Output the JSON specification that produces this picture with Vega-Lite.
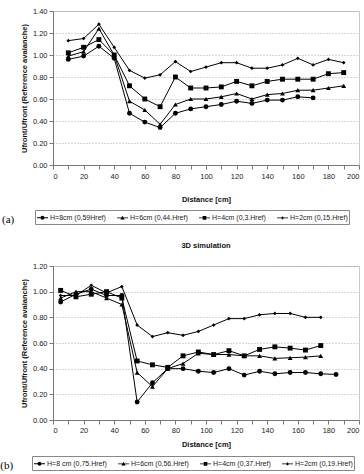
{
  "$schema": "https://vega.github.io/schema/vega-lite/v6.json",
  "padding": {"left": 0, "top": 6, "right": 0, "bottom": 0},
  "background": "white",
  "spacing": 16,
  "config": {
    "font": "Liberation Sans",
    "view": {"stroke": "#c8c8c8", "strokeWidth": 1},
    "axis": {"labelFontSize": 7.5, "labelColor": "#222", "titleFontSize": 7.5, "titleFontWeight": "bold", "titleColor": "#111", "domainColor": "#777", "tickColor": "#777", "tickSize": 4, "labelPadding": 2, "gridColor": "#999", "gridDash": [1, 2], "gridWidth": 0.8},
    "axisX": {"grid": false},
    "axisY": {"titlePadding": 4},
    "title": {"fontSize": 7.5, "fontWeight": "bold", "color": "#111"},
    "legend": {"orient": "none", "direction": "horizontal", "columns": 4, "strokeColor": "#888", "padding": 1, "labelFontSize": 7, "labelColor": "#222", "symbolSize": 121, "symbolOpacity": 1, "symbolFillColor": "black", "columnPadding": 8, "labelOffset": 1}
  },
  "vconcat": [
    {
      "title": {"text": "(a)", "orient": "left", "anchor": "start", "angle": 0, "frame": "bounds", "font": "Liberation Serif", "fontSize": 11, "fontWeight": "normal", "baseline": "bottom", "align": "right", "offset": -6, "color": "#000"},
      "width": 306,
      "height": 154,
      "data": {"values": [
        {"d": 10, "v": 0.96, "s": "H=8cm (0,59Href)"}, {"d": 20, "v": 0.99, "s": "H=8cm (0,59Href)"}, {"d": 30, "v": 1.08, "s": "H=8cm (0,59Href)"}, {"d": 40, "v": 0.97, "s": "H=8cm (0,59Href)"}, {"d": 50, "v": 0.47, "s": "H=8cm (0,59Href)"}, {"d": 60, "v": 0.39, "s": "H=8cm (0,59Href)"}, {"d": 70, "v": 0.34, "s": "H=8cm (0,59Href)"}, {"d": 80, "v": 0.47, "s": "H=8cm (0,59Href)"}, {"d": 90, "v": 0.51, "s": "H=8cm (0,59Href)"}, {"d": 100, "v": 0.53, "s": "H=8cm (0,59Href)"}, {"d": 110, "v": 0.55, "s": "H=8cm (0,59Href)"}, {"d": 120, "v": 0.58, "s": "H=8cm (0,59Href)"}, {"d": 130, "v": 0.56, "s": "H=8cm (0,59Href)"}, {"d": 140, "v": 0.59, "s": "H=8cm (0,59Href)"}, {"d": 150, "v": 0.59, "s": "H=8cm (0,59Href)"}, {"d": 160, "v": 0.62, "s": "H=8cm (0,59Href)"}, {"d": 170, "v": 0.61, "s": "H=8cm (0,59Href)"},
        {"d": 10, "v": 0.99, "s": "H=6cm (0,44.Href)"}, {"d": 20, "v": 1.03, "s": "H=6cm (0,44.Href)"}, {"d": 30, "v": 1.24, "s": "H=6cm (0,44.Href)"}, {"d": 40, "v": 1.0, "s": "H=6cm (0,44.Href)"}, {"d": 50, "v": 0.58, "s": "H=6cm (0,44.Href)"}, {"d": 60, "v": 0.5, "s": "H=6cm (0,44.Href)"}, {"d": 70, "v": 0.37, "s": "H=6cm (0,44.Href)"}, {"d": 80, "v": 0.55, "s": "H=6cm (0,44.Href)"}, {"d": 90, "v": 0.6, "s": "H=6cm (0,44.Href)"}, {"d": 100, "v": 0.6, "s": "H=6cm (0,44.Href)"}, {"d": 110, "v": 0.62, "s": "H=6cm (0,44.Href)"}, {"d": 120, "v": 0.65, "s": "H=6cm (0,44.Href)"}, {"d": 130, "v": 0.6, "s": "H=6cm (0,44.Href)"}, {"d": 140, "v": 0.64, "s": "H=6cm (0,44.Href)"}, {"d": 150, "v": 0.65, "s": "H=6cm (0,44.Href)"}, {"d": 160, "v": 0.68, "s": "H=6cm (0,44.Href)"}, {"d": 170, "v": 0.68, "s": "H=6cm (0,44.Href)"}, {"d": 180, "v": 0.7, "s": "H=6cm (0,44.Href)"}, {"d": 190, "v": 0.72, "s": "H=6cm (0,44.Href)"},
        {"d": 10, "v": 1.02, "s": "H=4cm (0,3.Href)"}, {"d": 20, "v": 1.07, "s": "H=4cm (0,3.Href)"}, {"d": 30, "v": 1.14, "s": "H=4cm (0,3.Href)"}, {"d": 40, "v": 1.0, "s": "H=4cm (0,3.Href)"}, {"d": 50, "v": 0.72, "s": "H=4cm (0,3.Href)"}, {"d": 60, "v": 0.6, "s": "H=4cm (0,3.Href)"}, {"d": 70, "v": 0.53, "s": "H=4cm (0,3.Href)"}, {"d": 80, "v": 0.8, "s": "H=4cm (0,3.Href)"}, {"d": 90, "v": 0.7, "s": "H=4cm (0,3.Href)"}, {"d": 100, "v": 0.7, "s": "H=4cm (0,3.Href)"}, {"d": 110, "v": 0.71, "s": "H=4cm (0,3.Href)"}, {"d": 120, "v": 0.76, "s": "H=4cm (0,3.Href)"}, {"d": 130, "v": 0.72, "s": "H=4cm (0,3.Href)"}, {"d": 140, "v": 0.76, "s": "H=4cm (0,3.Href)"}, {"d": 150, "v": 0.78, "s": "H=4cm (0,3.Href)"}, {"d": 160, "v": 0.78, "s": "H=4cm (0,3.Href)"}, {"d": 170, "v": 0.78, "s": "H=4cm (0,3.Href)"}, {"d": 180, "v": 0.83, "s": "H=4cm (0,3.Href)"}, {"d": 190, "v": 0.84, "s": "H=4cm (0,3.Href)"},
        {"d": 10, "v": 1.13, "s": "H=2cm (0,15.Href)"}, {"d": 20, "v": 1.15, "s": "H=2cm (0,15.Href)"}, {"d": 30, "v": 1.28, "s": "H=2cm (0,15.Href)"}, {"d": 40, "v": 1.07, "s": "H=2cm (0,15.Href)"}, {"d": 50, "v": 0.86, "s": "H=2cm (0,15.Href)"}, {"d": 60, "v": 0.79, "s": "H=2cm (0,15.Href)"}, {"d": 70, "v": 0.82, "s": "H=2cm (0,15.Href)"}, {"d": 80, "v": 0.94, "s": "H=2cm (0,15.Href)"}, {"d": 90, "v": 0.85, "s": "H=2cm (0,15.Href)"}, {"d": 100, "v": 0.89, "s": "H=2cm (0,15.Href)"}, {"d": 110, "v": 0.93, "s": "H=2cm (0,15.Href)"}, {"d": 120, "v": 0.93, "s": "H=2cm (0,15.Href)"}, {"d": 130, "v": 0.88, "s": "H=2cm (0,15.Href)"}, {"d": 140, "v": 0.88, "s": "H=2cm (0,15.Href)"}, {"d": 150, "v": 0.91, "s": "H=2cm (0,15.Href)"}, {"d": 160, "v": 0.97, "s": "H=2cm (0,15.Href)"}, {"d": 170, "v": 0.91, "s": "H=2cm (0,15.Href)"}, {"d": 180, "v": 0.96, "s": "H=2cm (0,15.Href)"}, {"d": 190, "v": 0.93, "s": "H=2cm (0,15.Href)"}
      ]},
      "encoding": {
        "x": {"field": "d", "type": "quantitative", "scale": {"domain": [0, 200], "nice": false}, "axis": {"values": [0,10,20,30,40,50,60,70,80,90,100,110,120,130,140,150,160,170,180,190,200], "title": "Distance [cm]", "labelPadding": 3, "titlePadding": 16}},
        "y": {"field": "v", "type": "quantitative", "scale": {"domain": [0, 1.4], "nice": false}, "axis": {"values": [0,0.2,0.4,0.6,0.8,1.0,1.2,1.4], "format": ".2f", "title": "Ufront/Ufront (Reference avalanche)", "grid": true}}
      },
      "layer": [
        {"mark": {"type": "line", "color": "black", "strokeWidth": 1}, "encoding": {"detail": {"field": "s"}}},
        {"mark": {"type": "point", "filled": true, "color": "black", "opacity": 1},
         "encoding": {
           "shape": {"field": "s", "type": "nominal", "scale": {"domain": ["H=8cm (0,59Href)", "H=6cm (0,44.Href)", "H=4cm (0,3.Href)", "H=2cm (0,15.Href)"], "range": ["circle", "triangle-up", "square", "diamond"]}, "legend": null},
           "size": {"condition": {"test": "datum.s === 'H=2cm (0,15.Href)'", "value": 14}, "value": 24}
         }},
        {"mark": {"type": "point", "filled": true, "color": "black", "opacity": 0},
         "encoding": {
           "shape": {"field": "s", "type": "nominal", "scale": {"domain": ["H=8cm (0,59Href)", "H=6cm (0,44.Href)", "H=4cm (0,3.Href)", "H=2cm (0,15.Href)"], "range": ["M-1,-0.08H1V0.08H-1ZM-0.36,0A0.36,0.36,0,1,1,0.36,0A0.36,0.36,0,1,1,-0.36,0Z", "M-1,-0.08H1V0.08H-1ZM0,-0.4L0.4,0.3L-0.4,0.3Z", "M-1,-0.08H1V0.08H-1ZM-0.33,-0.33H0.33V0.33H-0.33Z", "M-1,-0.08H1V0.08H-1ZM0,-0.3L0.3,0L0,0.3L-0.3,0Z"]},
             "legend": {"title": null, "legendX": -18, "legendY": 199, "symbolSize": 121, "symbolOpacity": 1, "encode": {"symbols": {"update": {"opacity": {"value": 1}, "fillOpacity": {"value": 1}, "fill": {"value": "black"}}}}}}
         }}
      ],
      "resolve": {"scale": {"shape": "independent"}, "legend": {"shape": "independent"}}
    },
    {
      "title": {"text": "(b)", "orient": "left", "anchor": "start", "angle": 0, "frame": "bounds", "font": "Liberation Serif", "fontSize": 11, "fontWeight": "normal", "baseline": "bottom", "align": "right", "offset": -6, "color": "#000"},
      "vconcat": [
        {
          "title": {"text": "3D simulation", "offset": 13, "anchor": "middle", "frame": "group"},
          "width": 306,
          "height": 154,
          "data": {"values": [
            {"d": 5, "v": 0.92, "s": "H=8 cm (0,75.Href)"}, {"d": 15, "v": 0.98, "s": "H=8 cm (0,75.Href)"}, {"d": 25, "v": 1.02, "s": "H=8 cm (0,75.Href)"}, {"d": 35, "v": 0.97, "s": "H=8 cm (0,75.Href)"}, {"d": 45, "v": 0.97, "s": "H=8 cm (0,75.Href)"}, {"d": 55, "v": 0.14, "s": "H=8 cm (0,75.Href)"}, {"d": 65, "v": 0.29, "s": "H=8 cm (0,75.Href)"}, {"d": 75, "v": 0.4, "s": "H=8 cm (0,75.Href)"}, {"d": 85, "v": 0.4, "s": "H=8 cm (0,75.Href)"}, {"d": 95, "v": 0.38, "s": "H=8 cm (0,75.Href)"}, {"d": 105, "v": 0.37, "s": "H=8 cm (0,75.Href)"}, {"d": 115, "v": 0.4, "s": "H=8 cm (0,75.Href)"}, {"d": 125, "v": 0.35, "s": "H=8 cm (0,75.Href)"}, {"d": 135, "v": 0.38, "s": "H=8 cm (0,75.Href)"}, {"d": 145, "v": 0.36, "s": "H=8 cm (0,75.Href)"}, {"d": 155, "v": 0.37, "s": "H=8 cm (0,75.Href)"}, {"d": 165, "v": 0.37, "s": "H=8 cm (0,75.Href)"}, {"d": 175, "v": 0.36, "s": "H=8 cm (0,75.Href)"}, {"d": 185, "v": 0.355, "s": "H=8 cm (0,75.Href)"},
            {"d": 5, "v": 0.95, "s": "H=6cm (0,56.Href)"}, {"d": 15, "v": 1.0, "s": "H=6cm (0,56.Href)"}, {"d": 25, "v": 1.0, "s": "H=6cm (0,56.Href)"}, {"d": 35, "v": 0.95, "s": "H=6cm (0,56.Href)"}, {"d": 45, "v": 0.9, "s": "H=6cm (0,56.Href)"}, {"d": 55, "v": 0.37, "s": "H=6cm (0,56.Href)"}, {"d": 65, "v": 0.26, "s": "H=6cm (0,56.Href)"}, {"d": 75, "v": 0.4, "s": "H=6cm (0,56.Href)"}, {"d": 85, "v": 0.44, "s": "H=6cm (0,56.Href)"}, {"d": 95, "v": 0.52, "s": "H=6cm (0,56.Href)"}, {"d": 105, "v": 0.51, "s": "H=6cm (0,56.Href)"}, {"d": 115, "v": 0.51, "s": "H=6cm (0,56.Href)"}, {"d": 125, "v": 0.5, "s": "H=6cm (0,56.Href)"}, {"d": 135, "v": 0.5, "s": "H=6cm (0,56.Href)"}, {"d": 145, "v": 0.48, "s": "H=6cm (0,56.Href)"}, {"d": 155, "v": 0.485, "s": "H=6cm (0,56.Href)"}, {"d": 165, "v": 0.49, "s": "H=6cm (0,56.Href)"}, {"d": 175, "v": 0.5, "s": "H=6cm (0,56.Href)"},
            {"d": 5, "v": 1.01, "s": "H=4cm (0,37.Href)"}, {"d": 15, "v": 0.96, "s": "H=4cm (0,37.Href)"}, {"d": 25, "v": 0.98, "s": "H=4cm (0,37.Href)"}, {"d": 35, "v": 1.0, "s": "H=4cm (0,37.Href)"}, {"d": 45, "v": 0.95, "s": "H=4cm (0,37.Href)"}, {"d": 55, "v": 0.46, "s": "H=4cm (0,37.Href)"}, {"d": 65, "v": 0.43, "s": "H=4cm (0,37.Href)"}, {"d": 75, "v": 0.41, "s": "H=4cm (0,37.Href)"}, {"d": 85, "v": 0.5, "s": "H=4cm (0,37.Href)"}, {"d": 95, "v": 0.53, "s": "H=4cm (0,37.Href)"}, {"d": 105, "v": 0.51, "s": "H=4cm (0,37.Href)"}, {"d": 115, "v": 0.54, "s": "H=4cm (0,37.Href)"}, {"d": 125, "v": 0.5, "s": "H=4cm (0,37.Href)"}, {"d": 135, "v": 0.55, "s": "H=4cm (0,37.Href)"}, {"d": 145, "v": 0.57, "s": "H=4cm (0,37.Href)"}, {"d": 155, "v": 0.56, "s": "H=4cm (0,37.Href)"}, {"d": 165, "v": 0.545, "s": "H=4cm (0,37.Href)"}, {"d": 175, "v": 0.58, "s": "H=4cm (0,37.Href)"},
            {"d": 5, "v": 0.97, "s": "H=2cm (0,19.Href)"}, {"d": 15, "v": 0.97, "s": "H=2cm (0,19.Href)"}, {"d": 25, "v": 1.05, "s": "H=2cm (0,19.Href)"}, {"d": 35, "v": 0.99, "s": "H=2cm (0,19.Href)"}, {"d": 45, "v": 1.04, "s": "H=2cm (0,19.Href)"}, {"d": 55, "v": 0.74, "s": "H=2cm (0,19.Href)"}, {"d": 65, "v": 0.65, "s": "H=2cm (0,19.Href)"}, {"d": 75, "v": 0.68, "s": "H=2cm (0,19.Href)"}, {"d": 85, "v": 0.66, "s": "H=2cm (0,19.Href)"}, {"d": 95, "v": 0.69, "s": "H=2cm (0,19.Href)"}, {"d": 105, "v": 0.74, "s": "H=2cm (0,19.Href)"}, {"d": 115, "v": 0.79, "s": "H=2cm (0,19.Href)"}, {"d": 125, "v": 0.79, "s": "H=2cm (0,19.Href)"}, {"d": 135, "v": 0.82, "s": "H=2cm (0,19.Href)"}, {"d": 145, "v": 0.83, "s": "H=2cm (0,19.Href)"}, {"d": 155, "v": 0.83, "s": "H=2cm (0,19.Href)"}, {"d": 165, "v": 0.8, "s": "H=2cm (0,19.Href)"}, {"d": 175, "v": 0.8, "s": "H=2cm (0,19.Href)"}
          ]},
          "encoding": {
            "x": {"field": "d", "type": "quantitative", "scale": {"domain": [0, 200], "nice": false}, "axis": {"values": [0,10,20,30,40,50,60,70,80,90,100,110,120,130,140,150,160,170,180,190,200], "title": "Distance [cm]", "labelPadding": 2, "titlePadding": 7}},
            "y": {"field": "v", "type": "quantitative", "scale": {"domain": [0, 1.2], "nice": false}, "axis": {"values": [0,0.2,0.4,0.6,0.8,1.0,1.2], "format": ".2f", "title": "Ufront/Ufront (Reference avalanche)", "grid": true}}
          },
          "layer": [
            {"mark": {"type": "line", "color": "black", "strokeWidth": 1}, "encoding": {"detail": {"field": "s"}}},
            {"mark": {"type": "point", "filled": true, "color": "black", "opacity": 1},
             "encoding": {
               "shape": {"field": "s", "type": "nominal", "scale": {"domain": ["H=8 cm (0,75.Href)", "H=6cm (0,56.Href)", "H=4cm (0,37.Href)", "H=2cm (0,19.Href)"], "range": ["circle", "triangle-up", "square", "diamond"]}, "legend": null},
               "size": {"condition": {"test": "datum.s === 'H=2cm (0,19.Href)'", "value": 14}, "value": 24}
             }},
            {"mark": {"type": "point", "filled": true, "color": "black", "opacity": 0},
             "encoding": {
               "shape": {"field": "s", "type": "nominal", "scale": {"domain": ["H=8 cm (0,75.Href)", "H=6cm (0,56.Href)", "H=4cm (0,37.Href)", "H=2cm (0,19.Href)"], "range": ["M-1,-0.08H1V0.08H-1ZM-0.36,0A0.36,0.36,0,1,1,0.36,0A0.36,0.36,0,1,1,-0.36,0Z", "M-1,-0.08H1V0.08H-1ZM0,-0.4L0.4,0.3L-0.4,0.3Z", "M-1,-0.08H1V0.08H-1ZM-0.33,-0.33H0.33V0.33H-0.33Z", "M-1,-0.08H1V0.08H-1ZM0,-0.3L0.3,0L0,0.3L-0.3,0Z"]},
                 "legend": {"title": null, "legendX": -21, "legendY": 190, "symbolSize": 121, "symbolOpacity": 1, "encode": {"symbols": {"update": {"opacity": {"value": 1}, "fillOpacity": {"value": 1}, "fill": {"value": "black"}}}}}}
             }}
          ],
          "resolve": {"scale": {"shape": "independent"}, "legend": {"shape": "independent"}}
        }
      ]
    }
  ],
  "resolve": {"scale": {"x": "independent", "y": "independent", "shape": "independent"}, "legend": {"shape": "independent"}}
}
